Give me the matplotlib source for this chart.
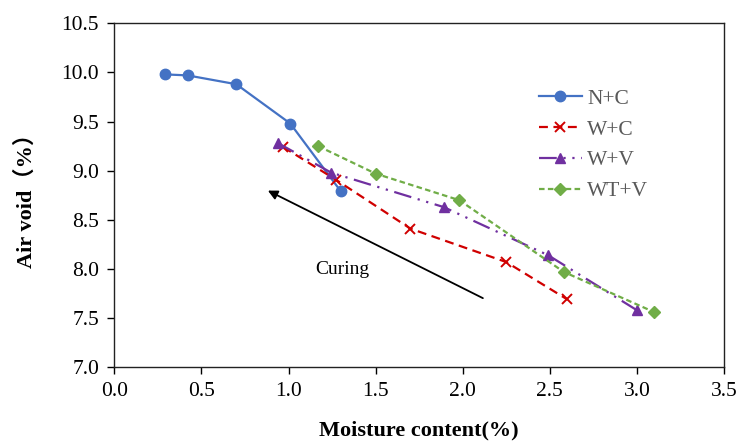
import matplotlib
matplotlib.use('Agg')
import matplotlib.pyplot as plt

# Air void vs moisture content for four curing conditions
nc_x = [0.29, 0.42, 0.70, 1.01, 1.30]
nc_y = [9.98, 9.97, 9.88, 9.48, 8.79]

wc_x = [0.97, 1.27, 1.70, 2.25, 2.60]
wc_y = [9.24, 8.91, 8.41, 8.07, 7.69]

wv_x = [0.94, 1.245, 1.89, 2.49, 3.00]
wv_y = [9.28, 8.98, 8.63, 8.14, 7.58]

wtv_x = [1.17, 1.50, 1.98, 2.58, 3.10]
wtv_y = [9.25, 8.97, 8.70, 7.97, 7.56]

x_ticks = [0.0, 0.5, 1.0, 1.5, 2.0, 2.5, 3.0, 3.5]
y_ticks = [7.0, 7.5, 8.0, 8.5, 9.0, 9.5, 10.0, 10.5]

serif = ['Liberation Serif', 'Noto Sans CJK SC', 'DejaVu Serif']
plt.rcParams['font.family'] = serif

fig = plt.figure(figsize=(7.38, 4.44), dpi=100)
ax = fig.add_axes([0.155, 0.173, 0.826, 0.7745])

ax.plot(nc_x, nc_y, color='#4472C4', lw=1.6, marker='o', ms=7.5, label='N+C')
ax.plot(wc_x, wc_y, color='#D00000', lw=1.6, marker='x', ms=7, mew=1.4,
        dashes=(4, 2.5), label='W+C')
ax.plot(wv_x, wv_y, color='#7030A0', lw=1.6, marker='^', ms=7.5,
        dashes=(8, 3, 1, 3, 1, 3), label='W+V')
ax.plot(wtv_x, wtv_y, color='#70AD47', lw=1.6, marker='D', ms=6,
        dashes=(2.5, 1.5), label='WT+V')

# curing direction arrow
ax.annotate('', xy=(0.867, 8.81), xytext=(2.13, 7.69),
            arrowprops=dict(arrowstyle='-|>', color='black', lw=1.3,
                            mutation_scale=14))
ax.text(1.31, 7.99, 'Curing', fontsize=14, ha='center', va='center')

ax.set_xlim(0, 3.5)
ax.set_ylim(7.0, 10.5)
ax.set_xticks(x_ticks)
ax.set_yticks(y_ticks)
ax.set_xticklabels([f'{v:.1f}' for v in x_ticks])
ax.set_yticklabels([f'{v:.1f}' for v in y_ticks])
ax.tick_params(labelsize=15.5, length=5, width=1, direction='out', pad=6)

for s in ax.spines.values():
    s.set_linewidth(1.0)
    s.set_color('#222222')

ax.set_xlabel('Moisture content(%)', fontsize=16, fontweight='bold', labelpad=14)
ax.set_ylabel('Air void（%）', fontsize=16, fontweight='bold', labelpad=18)

leg = ax.legend(loc='upper left', bbox_to_anchor=(0.696, 0.81), frameon=False,
                fontsize=15.5, handlelength=2.0, handletextpad=0.25,
                labelspacing=0.5, borderaxespad=0, borderpad=0)
for t in leg.get_texts():
    t.set_color('#595959')

fig.savefig('out.png', dpi=100)
